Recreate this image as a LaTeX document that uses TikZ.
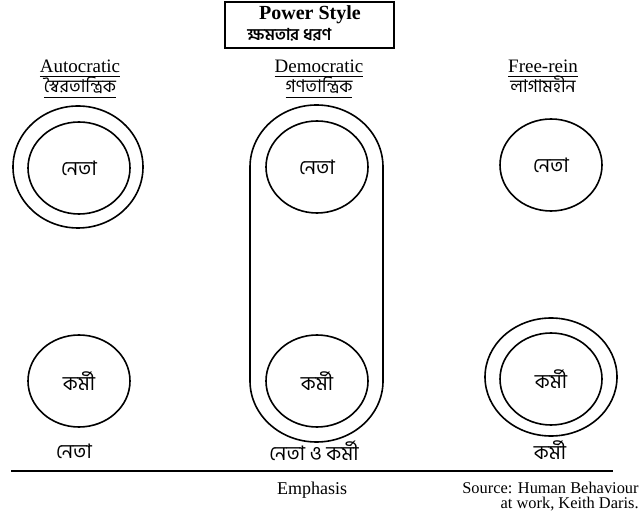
\documentclass[tikz,border=0pt]{standalone}
\usepackage{fontspec}
\setmainfont{Liberation Serif}
\newfontfamily\bn[Script=Bengali]{Hind Siliguri}
\usetikzlibrary{shapes.geometric}
\tikzset{
  inner/.style={ellipse, draw, line width=0.8pt, minimum width=51pt, minimum height=46pt, inner sep=0pt, font=\bn\fontsize{10}{12}\selectfont},
  ring/.style={ellipse, draw, line width=0.8pt, minimum width=65pt, minimum height=61pt, inner sep=0pt},
  head/.style={anchor=base, inner sep=0pt, font=\fontsize{9.5}{11}\selectfont},
  headbn/.style={anchor=base, inner sep=0pt, font=\bn\fontsize{8.8}{11}\selectfont},
  foot/.style={inner sep=0pt, font=\bn\fontsize{10}{12}\selectfont},
  src/.style={anchor=base east, inner sep=0pt, font=\fontsize{8.2}{9}\selectfont}
}
\begin{document}
\begin{tikzpicture}[x=0.5pt, y=-0.5pt]
\useasboundingbox (0,0) rectangle (641,512);
% Title
\node[draw, line width=0.8pt, minimum width=84.5pt, minimum height=23pt, inner sep=0pt] (title) at (309.5,25) {};
\node[inner sep=0pt, font=\bfseries\fontsize{10}{12}\selectfont] (titleEn) at (310,15) {Power Style};
\node[anchor=west, inner sep=0pt, font=\bn\bfseries\fontsize{8.2}{9}\selectfont] (titleBn) at (247,35) {ক্ষমতার ধরণ};

% Headings
\node[head] (autoEn) at (80,73) {\underline{Autocratic}};
\node[headbn] (autoBn) at (80,93) {\underline{স্বৈরতান্ত্রিক}};
\node[head] (demoEn) at (319,73) {\underline{Democratic}};
\node[headbn] (demoBn) at (319,93) {\underline{গণতান্ত্রিক}};
\node[head] (freeEn) at (543,73) {\underline{Free-rein}};
\node[headbn] (freeBn) at (543,93) {লাগামহীন};

% Autocratic
\node[ring] (autoRing) at (78,167) {};
\node[inner] (autoLeader) at (79,168) {নেতা};
\node[inner] (autoWorker) at (79,381) {কর্মী};
\node[foot] (autoFoot) at (74,451) {নেতা};

% Democratic
\draw[line width=0.8pt] (250,167) arc[start angle=180, end angle=0, x radius=33.25pt, y radius=31pt]
  -- (383,381) arc[start angle=0, end angle=-180, x radius=33.25pt, y radius=30.5pt] -- cycle;
\node[inner] (demoLeader) at (317,167) {নেতা};
\node[inner] (demoWorker) at (317,381) {কর্মী};
\node[foot] (demoFoot) at (314,451) {নেতা ও কর্মী};

% Free-rein
\node[inner] (freeLeader) at (551,165) {নেতা};
\node[ring, minimum width=66pt, minimum height=59pt] (freeRing) at (551,377) {};
\node[inner] (freeWorker) at (551,379) {কর্মী};
\node[foot] (freeFoot) at (550,450) {কর্মী};

% Axis
\draw[line width=1pt] (11,471) -- (613,471);
\node[anchor=base, inner sep=0pt, font=\fontsize{9}{10}\selectfont] (emph) at (312,494) {Emphasis};
\node[src] (source) at (639,493) {Source: Human Behaviour};
\node[src] (sourceB) at (639,508) {at work, Keith Daris.};
\end{tikzpicture}
\end{document}
